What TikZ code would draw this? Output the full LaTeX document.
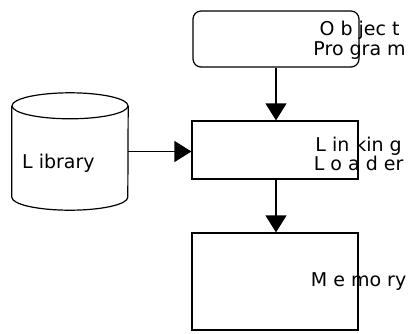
\documentclass[tikz,border=0pt]{standalone}
\usepackage{fontspec}
\setmainfont{DejaVu Sans}
\usetikzlibrary{arrows.meta}

\begin{document}
\begin{tikzpicture}[x=1pt,y=-1pt]
      \tikzstyle{boite}=[draw, line width=1.2pt, minimum width=166pt, inner sep=0pt]
      \tikzstyle{texte}=[align=center, inner sep=0pt]
      \tikzstyle{fleche}=[-{Triangle[width=21pt,length=17pt]}, line width=1.2pt]

      \useasboundingbox (0,0) rectangle (408,333);

      \node[boite, rounded corners=8pt, minimum height=56pt] (Obj) at (276,39) {};
      \node[boite, minimum height=58pt] (Link) at (275,150) {};
      \node[boite, minimum height=97pt] (Mem) at (275,281.5) {};
      \node[minimum width=116pt, minimum height=91pt, inner sep=0pt] (Lib) at (70,151.5) {};

      % cylindre
      \draw[line width=1.2pt] (Lib.north west) -- (Lib.south west)
        arc[start angle=180, end angle=360, x radius=58pt, y radius=13pt] -- (Lib.north east);
      \draw[line width=1.2pt] (Lib.north) ellipse[x radius=58pt, y radius=13pt];

      \node[texte, font=\fontsize{19}{20}\selectfont] (ObjTxt) at ([yshift=-1pt]Obj.east) {O b jec t\\Pro gra m};
      \node[texte, font=\fontsize{19}{15}\selectfont] (LinkTxt) at ([yshift=-4pt]Link.east) {L in kin g\\L o a d er};
      \node[texte, font=\fontsize{19}{20}\selectfont] (MemTxt) at (Mem.east) {M e mo ry};
      \node[texte, font=\fontsize{19}{20}\selectfont, anchor=west] (LibTxt) at (22,163) {L ibrary};

      \draw[fleche] (Obj.south -| Obj) -- (Link.north -| Obj);
      \draw[fleche] (Link.south -| Obj) -- (Mem.north -| Obj);
      \draw[fleche] (Lib.east) -- (Link.west |- Lib.east);
\end{tikzpicture}
\end{document}
